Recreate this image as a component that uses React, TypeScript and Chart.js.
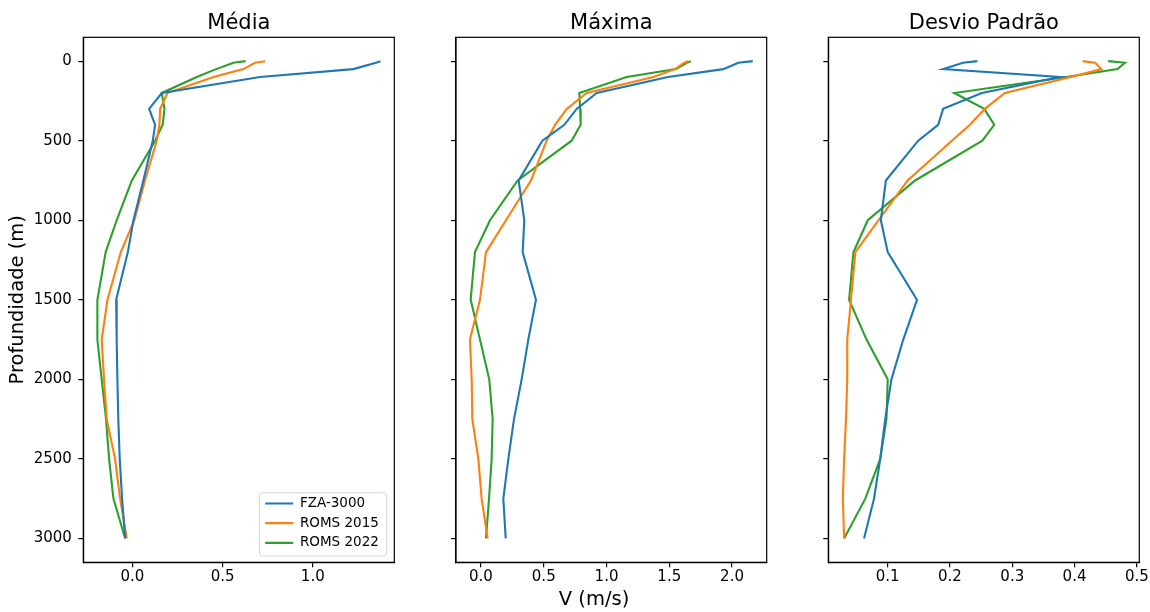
import React, { useEffect, useRef } from "react";
import { Chart, registerables } from "chart.js";

Chart.register(...registerables);

// ---------- data ----------
const depths = [0, 10, 50, 100, 200, 300, 400, 500, 750, 1000, 1200, 1500, 1750, 2000, 2250, 2500, 2750, 3000];

const seriesNames = ["FZA-3000", "ROMS 2015", "ROMS 2022"];
const seriesColors = ["#1f77b4", "#ff7f0e", "#2ca02c"];

// Média
const mediaFZA = [1.375, 1.35, 1.225, 0.708, 0.163, 0.093, 0.126, 0.113, 0.061, 0.006, -0.025, -0.09, -0.087, -0.083, -0.078, -0.07, -0.057, -0.04];
const mediaR2015 = [0.736, 0.68, 0.615, 0.449, 0.194, 0.154, 0.15, 0.135, 0.07, 0.011, -0.064, -0.138, -0.17, -0.157, -0.142, -0.096, -0.068, -0.031];
const mediaR2022 = [0.628, 0.56, 0.464, 0.357, 0.163, 0.178, 0.168, 0.126, -0.003, -0.087, -0.148, -0.194, -0.194, -0.17, -0.146, -0.129, -0.105, -0.04];

// Máxima
const maximaFZA = [2.165, 2.05, 1.93, 1.49, 0.922, 0.762, 0.664, 0.489, 0.3, 0.345, 0.332, 0.438, 0.377, 0.324, 0.263, 0.218, 0.178, 0.197];
const maximaR2015 = [1.652, 1.62, 1.546, 1.373, 0.842, 0.683, 0.59, 0.523, 0.398, 0.199, 0.04, -0.008, -0.088, -0.074, -0.069, -0.021, 0.005, 0.053];
const maximaR2022 = [1.671, 1.64, 1.554, 1.161, 0.783, 0.79, 0.794, 0.722, 0.292, 0.072, -0.048, -0.082, -0.008, 0.066, 0.093, 0.085, 0.064, 0.04];

// Desvio Padrão
const desvioFZA = [0.244, 0.221, 0.189, 0.377, 0.251, 0.189, 0.181, 0.149, 0.097, 0.089, 0.1, 0.147, 0.125, 0.106, 0.096, 0.088, 0.078, 0.062];
const desvioR2015 = [0.413, 0.433, 0.443, 0.394, 0.288, 0.256, 0.232, 0.203, 0.132, 0.085, 0.048, 0.041, 0.035, 0.035, 0.033, 0.03, 0.028, 0.03];
const desvioR2022 = [0.454, 0.481, 0.469, 0.387, 0.207, 0.255, 0.271, 0.252, 0.144, 0.068, 0.045, 0.038, 0.066, 0.1, 0.098, 0.088, 0.064, 0.03];

// ticks
const depthTicks = [0, 500, 1000, 1500, 2000, 2500, 3000];
const mediaTicks = [0, 0.5, 1.0];
const maximaTicks = [0, 0.5, 1.0, 1.5, 2.0];
const desvioTicks = [0.1, 0.2, 0.3, 0.4, 0.5];

const panelTitles = ["Média", "Máxima", "Desvio Padrão"];
const yLabel = "Profundidade (m)";
const xLabel = "V (m/s)";

// ---------- layout ----------
const FONT = "'DejaVu Sans', 'Liberation Sans', sans-serif";
const H = 612;
const Y_MIN = -150;
const Y_MAX = 3150;

type Panel = {
  title: string;
  series: number[][];
  xTicks: number[];
  xMin: number;
  xMax: number;
  left: number;
  width: number;
  padL: number;
  padR: number;
  yAxisW: number;
  yLabels: boolean;
  legend: boolean;
  xTitle: boolean;
};

const panels: Panel[] = [
  { title: panelTitles[0], series: [mediaFZA, mediaR2015, mediaR2022], xTicks: mediaTicks, xMin: -0.272, xMax: 1.452,
    left: 0, width: 420, padL: 0, padR: 25.7, yAxisW: 83.3, yLabels: true, legend: true, xTitle: false },
  { title: panelTitles[1], series: [maximaFZA, maximaR2015, maximaR2022], xTicks: maximaTicks, xMin: -0.199, xMax: 2.276,
    left: 420, width: 370, padL: 1.3, padR: 23.3, yAxisW: 34.7, yLabels: false, legend: false, xTitle: true },
  { title: panelTitles[2], series: [desvioFZA, desvioR2015, desvioR2022], xTicks: desvioTicks, xMin: 0.0046, xMax: 0.504,
    left: 790, width: 360, padL: 0, padR: 10.7, yAxisW: 38.3, yLabels: false, legend: false, xTitle: false },
];

const framePlugin = {
  id: "frameBox",
  afterDraw(chart: any) {
    const { ctx, chartArea: a } = chart;
    ctx.save();
    ctx.strokeStyle = "#000";
    ctx.lineWidth = 1.2;
    ctx.strokeRect(a.left, a.top, a.right - a.left, a.bottom - a.top);
    ctx.restore();
  },
};

const legendPlacer = {
  id: "legendPlacer",
  afterLayout(chart: any) {
    const lg = chart.legend;
    if (!lg || !chart.options.plugins.legend.display) return;
    const a = chart.chartArea;
    lg.left = a.right - 135.3;
    lg.top = a.bottom - 71.8;
    lg.right = lg.left + 128;
    lg.bottom = lg.top + 80;
    lg.width = 128;
    lg.height = 80;
  },
  beforeDraw(chart: any) {
    if (!chart.options.plugins.legend.display) return;
    const a = chart.chartArea;
    const { ctx } = chart;
    const x0 = a.right - 135;
    const y0 = a.bottom - 69.6;
    const w = 127.4;
    const h = 63.3;
    ctx.save();
    ctx.beginPath();
    if ((ctx as any).roundRect) (ctx as any).roundRect(x0, y0, w, h, 3);
    else ctx.rect(x0, y0, w, h);
    ctx.fillStyle = "rgba(255,255,255,0.8)";
    ctx.fill();
    ctx.strokeStyle = "#d6d6d6";
    ctx.lineWidth = 1;
    ctx.stroke();
    ctx.restore();
  },
};

function PanelChart({ p }: { p: Panel }) {
  const ref = useRef<HTMLCanvasElement | null>(null);
  useEffect(() => {
    if (!ref.current) return;
    const datasets = p.series.map((vals, i) => ({
      label: seriesNames[i],
      data: vals.map((v, k) => ({ x: v, y: depths[k] })),
      borderColor: seriesColors[i],
      backgroundColor: seriesColors[i],
      borderWidth: 2.1,
      pointRadius: 0,
      pointHoverRadius: 0,
      showLine: true,
      tension: 0,
      fill: false,
    }));
    const chart = new Chart(ref.current, {
      type: "scatter",
      data: { datasets },
      plugins: [framePlugin, legendPlacer],
      options: {
        animation: false,
        responsive: false,
        devicePixelRatio: 1,
        layout: { padding: { left: p.padL, right: p.padR, top: 0, bottom: 0 } },
        events: [],
        plugins: {
          tooltip: { enabled: false },
          title: {
            display: true,
            text: p.title,
            fullSize: false,
            color: "#000",
            font: { family: FONT, size: 21, weight: "normal" },
            padding: { top: 10.9, bottom: 1.2 },
          },
          subtitle: {
            display: p.xTitle,
            text: xLabel,
            position: "bottom",
            fullSize: true,
            color: "#000",
            font: { family: FONT, size: 19.5, weight: "normal" },
            padding: { top: 0, bottom: 0.3 },
          },
          legend: {
            display: p.legend,
            position: "chartArea",
            align: "start",
            labels: {
              color: "#000",
              font: { family: FONT, size: 13.5 },
              usePointStyle: true,
              pointStyle: "line",
              pointStyleWidth: 28,
              padding: 6.2,
            },
          },
        },
        scales: {
          x: {
            type: "linear",
            position: "bottom",
            min: p.xMin,
            max: p.xMax,
            afterBuildTicks: (s: any) => {
              s.ticks = p.xTicks.map((v) => ({ value: v }));
            },
            afterFit: (s: any) => {
              s.height = p.xTitle ? 26 : H - 562.3;
              s.paddingLeft = 0;
              s.paddingRight = 0;
            },
            grid: { drawOnChartArea: false, drawTicks: true, tickLength: 5, color: "#000", lineWidth: 1.2 },
            border: { display: true, color: "#000", width: 1.2 },
            ticks: {
              autoSkip: false,
              maxRotation: 0,
              minRotation: 0,
              padding: 1.2,
              color: "#000",
              font: { family: FONT, size: 15 },
              callback: (v: any) => Number(v).toFixed(1),
            },
          },
          y: {
            type: "linear",
            position: "left",
            reverse: true,
            min: Y_MIN,
            max: Y_MAX,
            afterBuildTicks: (s: any) => {
              s.ticks = depthTicks.map((v) => ({ value: v }));
            },
            afterFit: (s: any) => {
              s.width = p.yAxisW;
              s.paddingTop = 0;
              s.paddingBottom = 0;
            },
            grid: { drawOnChartArea: false, drawTicks: true, tickLength: 5, color: "#000", lineWidth: 1.2 },
            border: { display: true, color: "#000", width: 1.2 },
            title: {
              display: p.yLabels,
              text: yLabel,
              color: "#000",
              font: { family: FONT, size: 19.5 },
              padding: { top: 6, bottom: 0 },
            },
            ticks: {
              display: p.yLabels,
              autoSkip: false,
              padding: 6.5,
              color: "#000",
              font: { family: FONT, size: 15 },
              callback: (v: any) => String(v),
            },
          },
        },
      } as any,
    });
    return () => chart.destroy();
  }, [p]);
  return (
    <canvas
      ref={ref}
      width={p.width}
      height={H}
      style={{ position: "absolute", left: p.left, top: 0, width: p.width, height: H }}
    />
  );
}

export default function App() {
  return (
    <div style={{ position: "absolute", left: 0, top: 0, width: 1150, height: H, background: "#fff", overflow: "hidden" }}>
      {panels.map((p, i) => (
        <PanelChart key={i} p={p} />
      ))}
    </div>
  );
}
